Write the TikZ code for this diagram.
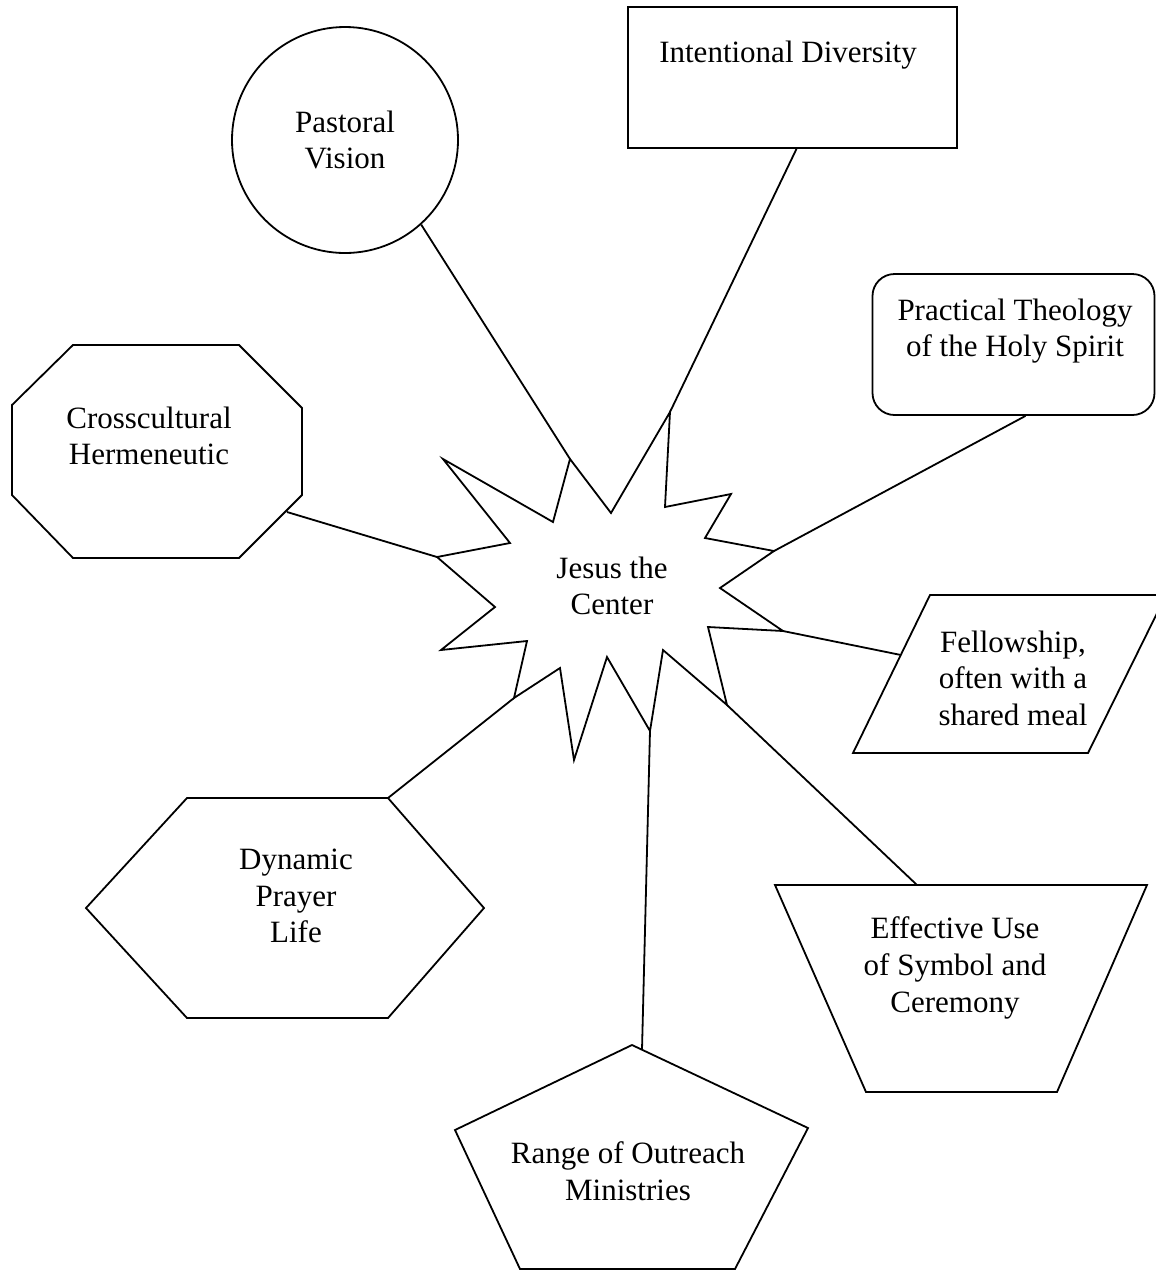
\documentclass[tikz,border=0pt]{standalone}
\usepackage{fontspec}
\setmainfont{Liberation Serif}
\usetikzlibrary{calc}

\tikzset{
  box/.style={draw=black, line width=0.9pt, line join=miter},
  link/.style={draw=black, line width=0.9pt},
  txt/.style={align=center, inner sep=0pt, font=\fontsize{15.5pt}{18.3pt}\selectfont}
}

\begin{document}
\begin{tikzpicture}[x=0.5pt, y=-0.5pt]
\useasboundingbox (0,0) rectangle (1156,1271);

% Jesus the Center
\draw[box] (570,459) coordinate (s1) -- (611,513) -- (670,412) coordinate (s3)
 -- (665,507) -- (731,494) -- (705,538) -- (774,551) coordinate (s7)
 -- (720,588) -- (783,631) coordinate (s9) -- (708,627) -- (727,705) coordinate (s11)
 -- (663,650) -- (650,731) coordinate (s13) -- (607,657) -- (574,760)
 -- (560,668) -- (514,698) coordinate (s17) -- (527,641) -- (441,650)
 -- (495,607) -- (437,557) coordinate (s21) -- (510,543) -- (443,459)
 -- (553,522) -- cycle;
\node[txt] (center) at (612,586) {Jesus the\\Center};

% Pastoral Vision
\node[box, circle, minimum size=113pt, inner sep=0pt, txt] (pastoral) at (345,140) {Pastoral\\Vision};

% Intentional Diversity
\node[box, rectangle, minimum width=164.5pt, minimum height=70.5pt, inner sep=0pt] (diversity) at (792.5,77.5) {};
\node[txt] (diversitytxt) at (788,55) {Intentional Diversity};

% Practical Theology
\node[box, rectangle, rounded corners=11pt, minimum width=141pt, minimum height=70.5pt, inner sep=0pt] (spirit) at (1013.5,344.5) {};
\node[txt] (spirittxt) at (1015,331) {Practical Theology\\of the Holy Spirit};

% Crosscultural Hermeneutic
\draw[box] (73,345) -- (239,345) -- (302,408) -- (302,495) -- (239,558)
 -- (73,558) -- (12,495) -- (12,405) -- cycle;
\coordinate (cross) at (287,512);
\node[txt] (crosstxt) at (149,436) {Crosscultural\\Hermeneutic};

% Fellowship
\draw[box] (930,595) -- (1166,595) -- (1088,753) -- (853,753) -- cycle;
\coordinate (fellow) at (901,655);
\node[txt] (fellowtxt) at (1013,678) {Fellowship,\\often with a\\shared meal};

% Dynamic Prayer Life
\draw[box] (187,798) -- (388,798) coordinate (prayer) -- (484,908) -- (388,1018)
 -- (187,1018) -- (86,908) -- cycle;
\node[txt] (prayertxt) at (296,896) {Dynamic\\Prayer\\Life};

% Effective Use of Symbol
\draw[box] (775,885) -- (1147,885) -- (1057,1092) -- (866,1092) -- cycle;
\coordinate (symbol) at (917,885);
\node[txt] (symboltxt) at (955,968) {Effective Use\\of Symbol and\\Ceremony};

% Range of Outreach
\draw[box] (632,1045) -- (808,1128) -- (735,1269) -- (520,1269) -- (455,1130) -- cycle;
\coordinate (outreach) at (642,1050);
\node[txt] (outreachtxt) at (628,1171) {Range of Outreach\\Ministries};

% spokes
\draw[link] (pastoral.-48) -- (s1);
\draw[link] ([xshift=2pt]diversity.south) -- (s3);
\draw[link] ([xshift=6pt]spirit.south) -- (s7);
\draw[link] (cross) -- (s21);
\draw[link] (s9) -- (fellow);
\draw[link] (prayer) -- (s17);
\draw[link] (s11) -- (symbol);
\draw[link] (outreach) -- (s13);
\end{tikzpicture}
\end{document}
